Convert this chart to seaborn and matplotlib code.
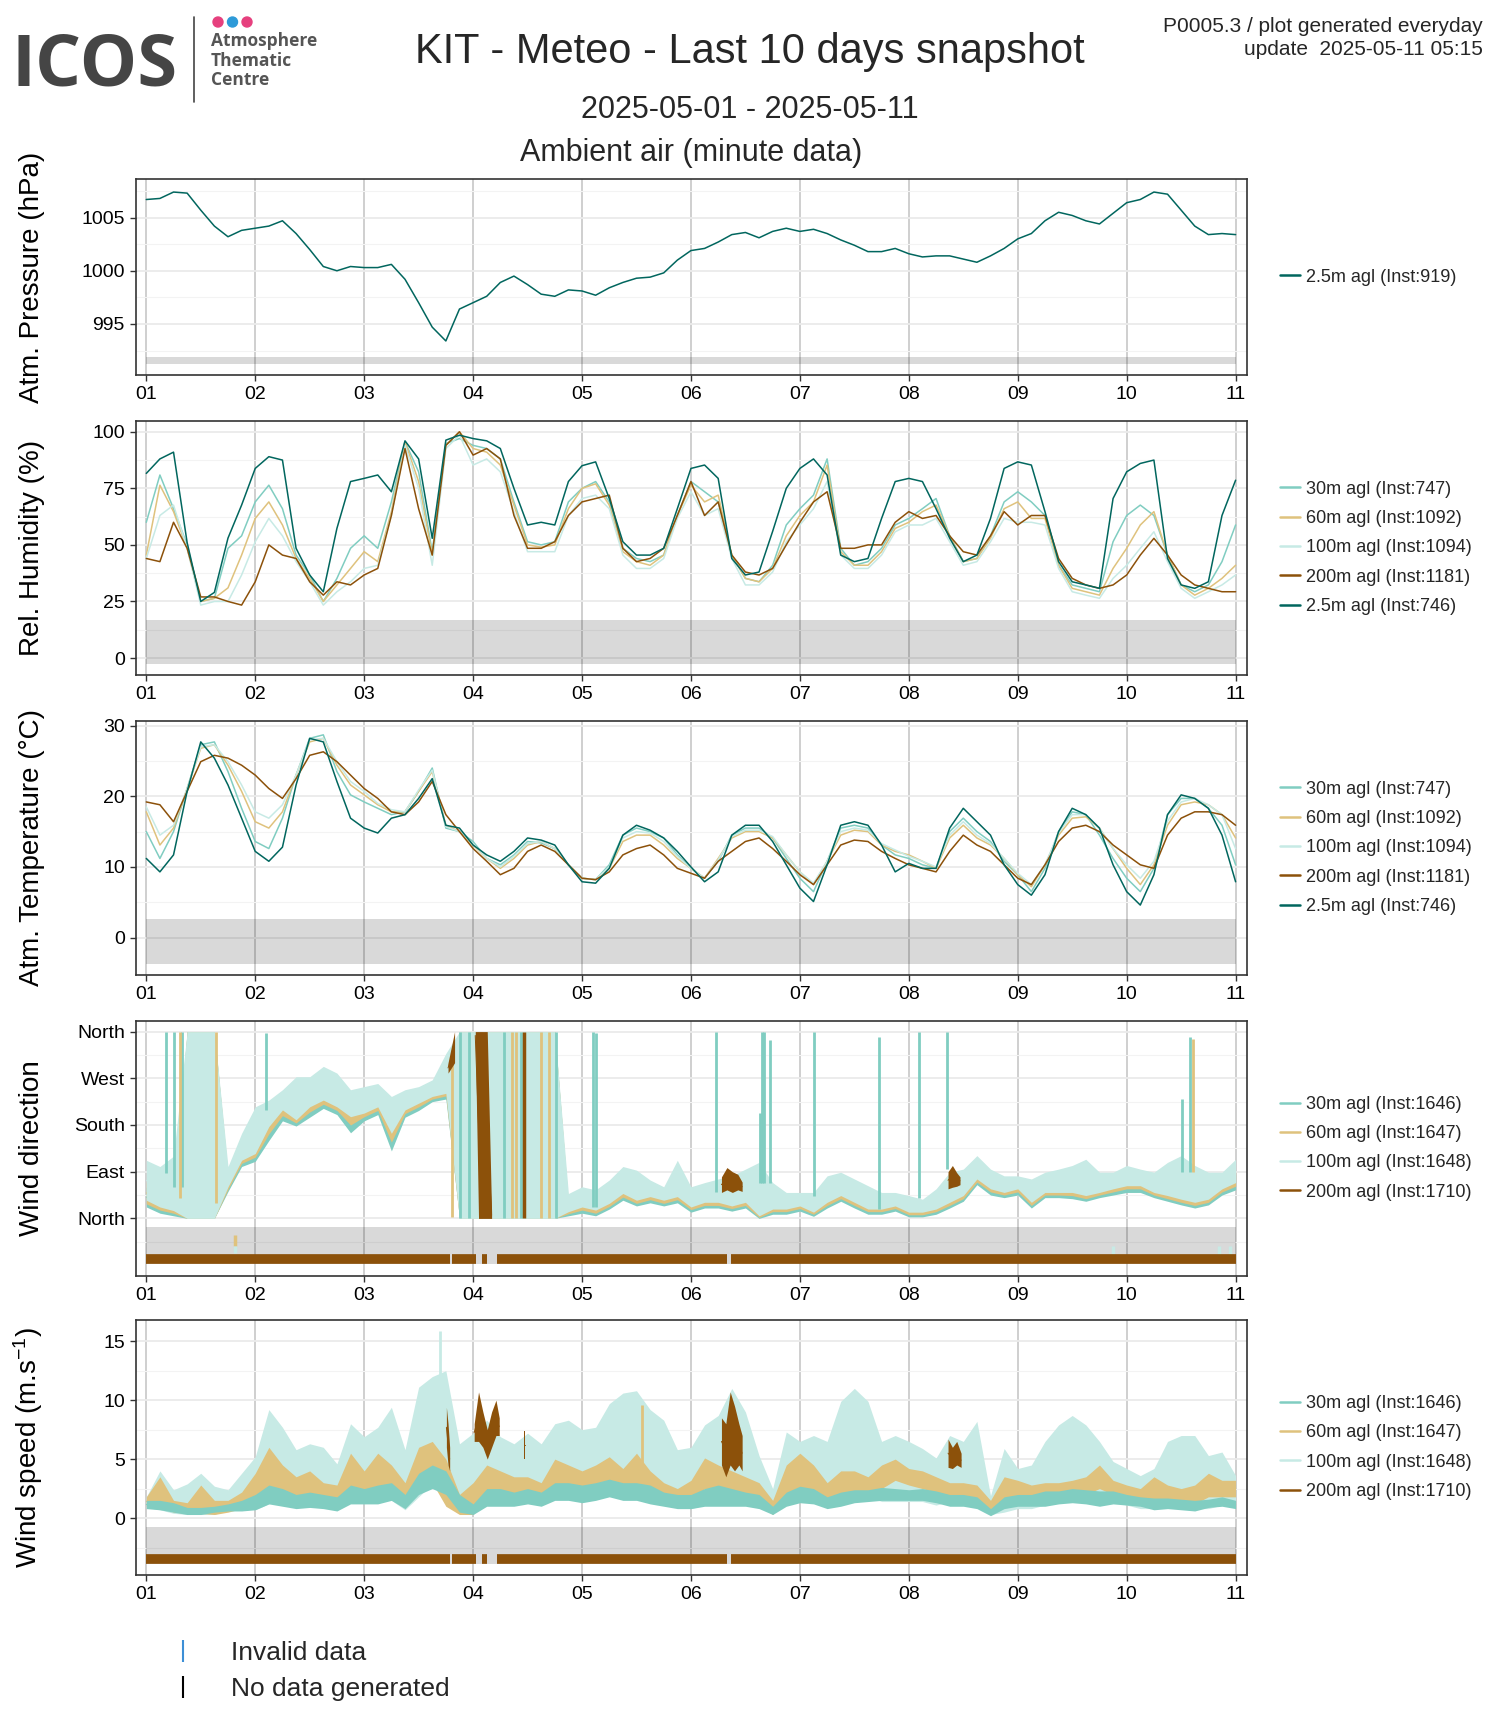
import numpy as np
import pandas as pd
import matplotlib
matplotlib.use("Agg")
import matplotlib.pyplot as plt
from matplotlib.lines import Line2D
from matplotlib.patches import Ellipse
from matplotlib.ticker import FixedLocator
import seaborn as sns

sns.set_theme(style="white")
plt.rcParams["font.family"] = ["Liberation Sans", "DejaVu Sans"]
plt.rcParams["mathtext.default"] = "regular"

nan = np.nan
# day of May 2025, one reading every 3 hours
t = np.linspace(1, 11, 81)

# --- atmospheric pressure, 2.5m
p_25 = [1006.7, 1006.8, 1007.4, 1007.3, 1005.7, 1004.2, 1003.2, 1003.8,
        1004.0, 1004.2, 1004.7, 1003.5, 1002.0, 1000.4, 1000.0, 1000.4,
        1000.3, 1000.3, 1000.6, 999.2, 997.0, 994.7, 993.4, 996.4,
        997.0, 997.6, 998.9, 999.5, 998.7, 997.8, 997.6, 998.2,
        998.1, 997.7, 998.4, 998.9, 999.3, 999.4, 999.8, 1001.0,
        1001.9, 1002.1, 1002.7, 1003.4, 1003.6, 1003.1, 1003.7, 1004.0,
        1003.7, 1003.9, 1003.5, 1002.9, 1002.4, 1001.8, 1001.8, 1002.1,
        1001.6, 1001.3, 1001.4, 1001.4, 1001.1, 1000.8, 1001.4, 1002.1,
        1003.0, 1003.5, 1004.7, 1005.5, 1005.2, 1004.7, 1004.4, 1005.4,
        1006.4, 1006.7, 1007.4, 1007.2, 1005.7, 1004.2, 1003.4, 1003.5, 1003.4]

# --- relative humidity (%)
rh_30 = [60, 80.9, 66, 50, 25, 26.4, 48.5, 54,
         69, 76.4, 66, 45.5, 36.7, 25, 35.2, 48.5,
         54, 48.5, 69, 95.6, 82.3, 47, 94.8, 97,
         94, 92.6, 88, 69, 51.4, 50, 51.4, 69,
         75, 78, 69, 48.5, 44, 42.6, 45.5, 63,
         78, 73.5, 69, 45.5, 35.2, 33.7, 41, 58.8,
         66, 72, 88, 48.5, 41, 42.6, 48.5, 58.8,
         61.7, 66, 70.5, 54, 42.6, 44, 54, 69,
         73.5, 69, 63, 41, 32.3, 30.8, 29.3, 51.4,
         63, 67.6, 63, 45.5, 32.3, 29.3, 32.3, 42.6, 58.8]
rh_60 = [45.5, 76.4, 64.7, 48.5, 25, 26.4, 31, 45.5,
         61.7, 69, 58.8, 44, 35.2, 25, 32.3, 39.6,
         47, 42.6, 64.7, 95.6, 78, 45.5, 94, 100,
         92.6, 91, 85.3, 67.6, 50, 49, 50, 66,
         75, 77, 67.6, 47, 42.6, 41, 45.5, 63,
         76.4, 69, 72, 45.5, 35.2, 33.7, 39.6, 54,
         63, 69, 85.3, 47, 41, 41, 47, 57.3,
         60, 64.7, 67.6, 54, 42.6, 44, 52.9, 66,
         69, 61.7, 61.7, 41, 30.8, 29.3, 27.8, 39.6,
         48.5, 58.8, 64.7, 45.5, 32.3, 27.8, 30.8, 35.2, 41]
rh_100 = [44, 63, 67.6, 48.5, 23.4, 25, 25, 36.7,
          51.4, 61.7, 54, 42.6, 33.7, 23.4, 29.3, 33.7,
          39.6, 41, 63, 94, 75, 41, 92.6, 98.5,
          85.3, 88, 82.3, 64.7, 47, 47, 47, 63,
          70.5, 72, 66, 45.5, 39.6, 39.6, 44, 61.7,
          73.5, 63, 66, 44, 32.3, 32.3, 38, 51.4,
          58.8, 66, 78, 45.5, 39.6, 39.6, 45.5, 55.8,
          58.8, 58.8, 61.7, 51.4, 41, 42.6, 51.4, 61.7,
          60, 60, 58.8, 39.6, 29.3, 27.8, 26.4, 35.2,
          41, 48.5, 55.8, 42.6, 30.8, 26.4, 29.3, 32.3, 36.7]
rh_200 = [44, 42.6, 60, 48.5, 27, 27, 25, 23.4,
          33.7, 50, 45.5, 44, 33.7, 27.8, 33.7, 32.3,
          36.7, 39.6, 63, 92.6, 66, 45.5, 94, 100,
          89.7, 92.6, 88, 63, 48.5, 48.5, 51.4, 63,
          69, 70.5, 72, 48.5, 42.6, 44, 48.5, 63,
          78, 63, 69, 45.5, 38, 36.7, 39.6, 50,
          60, 69, 73.5, 48.5, 48.5, 50, 50, 60,
          64.7, 61.7, 63, 54, 47, 45.5, 54, 64.7,
          58.8, 63, 63, 44, 35.2, 32.3, 30.8, 32.3,
          36.7, 45.5, 52.9, 45.5, 36.7, 32.3, 30.8, 29.3, 29.3]
rh_25 = [81.6, 88, 91, 51, 25, 29, 53, 67.6,
         83.8, 89, 87.5, 48.5, 36.7, 29.3, 57.3, 78,
         79.4, 80.9, 73.5, 96, 88, 52.9, 96.3, 98.5,
         97, 96, 92.6, 75, 58.8, 60, 58.8, 78,
         85, 86.7, 70.5, 51.4, 45.5, 45.5, 48.5, 66,
         83.8, 85.3, 79.4, 44, 36.7, 38, 56, 75,
         83.8, 88, 80.9, 45.5, 42.6, 44, 61.7, 78,
         79.4, 78, 66, 53, 42.6, 45.5, 61.7, 83.8,
         86.7, 85.3, 64.7, 42.6, 33.7, 32.3, 30.8, 70.5,
         82.3, 86, 87.5, 44, 32.3, 30.8, 33.7, 63, 78.6]

# --- air temperature (deg C)
t_30 = [15, 11.2, 15, 21.1, 27.3, 27.7, 23.5, 18.3,
        13.6, 12.6, 16.9, 23, 28.2, 28.7, 23.5, 20.2,
        19.2, 18.3, 17.4, 17.8, 20.7, 24, 15.5, 15,
        13.6, 11.2, 10.3, 11.7, 13.6, 13.4, 12.6, 10.3,
        8.4, 8.2, 10.3, 14.5, 15.5, 15, 14.1, 11.7,
        9.8, 8.4, 10.8, 14.5, 15.5, 15.5, 14.1, 11.2,
        8.4, 6.5, 10.8, 15.5, 15.9, 15.5, 13.1, 11.7,
        11.2, 10.3, 9.8, 15, 16.9, 15, 13.6, 10.8,
        8.9, 6.5, 9.8, 15, 17.8, 17.4, 14.5, 11.2,
        8.4, 6.5, 9.8, 17.4, 19.7, 19.7, 18.3, 15.9, 10.3]
t_60 = [17.8, 13.1, 15.5, 21.1, 26.8, 27.3, 24.4, 20.7,
        16.4, 15.5, 17.8, 23, 27.7, 28.2, 24.4, 21.6,
        20.2, 18.8, 17.8, 17.8, 20.7, 23.5, 15.9, 15,
        13.1, 11.2, 9.8, 11.2, 13.1, 13.6, 12.6, 10.3,
        8.4, 8.2, 9.8, 13.6, 14.5, 14.5, 13.1, 11.2,
        9.8, 8.4, 11.2, 14.1, 15, 15, 14.1, 11.7,
        9.3, 7.5, 10.8, 14.5, 15.2, 15, 13.1, 12.2,
        11.7, 10.8, 9.8, 14.1, 15.9, 14.1, 13.1, 11.2,
        8.9, 7.2, 10.3, 14.5, 16.9, 17.1, 15.5, 12.6,
        9.8, 7.5, 10.3, 15.9, 18.8, 19.2, 18.8, 17.4, 14.1]
t_100 = [18.5, 14.5, 15.9, 21.1, 27, 27.3, 24.9, 21.6,
         17.8, 16.9, 18.8, 23, 28, 28.2, 24.9, 22.1,
         20.7, 19, 18.1, 17.8, 20.9, 23.7, 15.7, 15,
         13.3, 11.2, 10, 11.5, 13.3, 13.6, 12.6, 10.3,
         8.4, 8.2, 10, 14.1, 15, 14.8, 13.6, 11.5,
         9.8, 8.4, 11, 14.3, 15.2, 15.2, 14.3, 11.7,
         9.3, 7.7, 10.8, 15, 15.5, 15.2, 13.3, 12.4,
         11.5, 10.8, 10, 14.5, 16.4, 14.5, 13.3, 11.2,
         9.1, 7.5, 10.3, 14.8, 17.4, 17.4, 15.5, 12.6,
         10.3, 8.4, 10.8, 16.5, 19.2, 19.7, 18.8, 17.4, 12.6]
t_200 = [19.2, 18.8, 16.4, 20.7, 24.9, 25.8, 25.4, 24.4,
         23, 21.1, 19.7, 22.5, 25.8, 26.3, 24.9, 23,
         21.1, 19.7, 17.8, 17.4, 19.2, 22.1, 17.4, 15,
         12.6, 10.8, 8.9, 9.8, 12.2, 13.1, 12.2, 10.3,
         8.4, 8.2, 9.3, 11.7, 12.6, 13.1, 11.7, 9.8,
         9.1, 8.4, 10.8, 12.2, 13.6, 14.1, 12.6, 10.8,
         8.9, 7.5, 10.3, 13.1, 13.8, 13.6, 12.2, 11.2,
         10.3, 9.8, 9.3, 12.2, 14.5, 13.1, 12.2, 10.3,
         8.4, 7.5, 10.3, 13.6, 15.5, 15.9, 15, 13.1,
         11.7, 10.3, 9.8, 14.5, 16.9, 17.8, 17.8, 17.4, 15.9]
t_25 = [11.2, 9.3, 11.7, 20.7, 27.7, 25.4, 21.6, 16.9,
        12.2, 10.8, 12.8, 21.6, 28.2, 27.7, 22.1, 16.9,
        15.5, 14.8, 16.9, 17.4, 19.7, 22.5, 15.9, 15.5,
        13.1, 11.7, 10.8, 12.2, 14.1, 13.8, 13.1, 10.3,
        7.9, 7.7, 9.8, 14.5, 15.9, 15.2, 14.1, 12.2,
        10.0, 7.9, 9.3, 14.5, 15.9, 15.9, 13.6, 10.3,
        7.0, 5.1, 10.3, 15.9, 16.4, 15.9, 13.1, 9.3,
        10.5, 9.8, 9.8, 15.5, 18.3, 16.4, 14.5, 10.3,
        7.5, 6.0, 8.9, 15, 18.3, 17.4, 15.5, 10.3,
        6.5, 4.6, 8.9, 17.4, 20.2, 19.7, 18.3, 14.5, 7.9]

# --- wind direction (deg), min / max of the minute values in each 3 h slot
wd30_lo = [22, 10, 5, 0, 0, 0, 52, 100,
           110, 150, 188, 178, 195, 212, 200, 165,
           188, 200, 130, 195, 208, 225, 230, 0,
           0, 0, 0, 0, 0, 0, 0, 5,
           10, 5, 18, 35, 24, 30, 24, 30,
           12, 20, 20, 14, 20, 0, 8, 8,
           14, 4, 20, 33, 20, 8, 8, 14,
           3, 3, 8, 20, 33, 65, 45, 40,
           45, 20, 40, 40, 38, 33, 40, 45,
           50, 50, 40, 33, 26, 20, 26, 45, 55]
wd30_hi = [60, 50, 45, 360, 360, 360, 80, 130,
           160, 200, 215, 210, 225, 240, 230, 215,
           215, 225, 190, 220, 230, 245, 260, 360,
           360, 360, 360, 360, 360, 360, 360, 25,
           30, 25, 40, 60, 45, 50, 40, 55,
           35, 40, 40, 35, 45, 40, 35, 25,
           30, 25, 40, 55, 40, 30, 25, 30,
           20, 20, 30, 45, 60, 85, 65, 60,
           65, 40, 60, 60, 65, 60, 60, 65,
           75, 70, 60, 60, 55, 50, 50, 65, 85]
wd60_lo = [28, 16, 10, 0, 0, 0, 56, 106,
           118, 163, 198, 184, 205, 220, 208, 180,
           196, 208, 147, 202, 215, 230, 236, 0,
           0, 0, 0, 0, 0, 0, 0, 9,
           16, 10, 23, 41, 29, 36, 29, 36,
           17, 25, 25, 19, 25, 2, 13, 13,
           19, 8, 25, 38, 25, 13, 13, 19,
           7, 7, 13, 25, 38, 70, 51, 45,
           51, 25, 45, 45, 44, 38, 45, 51,
           57, 57, 45, 38, 31, 25, 31, 51, 62]
wd60_hi = [70, 65, 60, 360, 360, 360, 85, 140,
           175, 210, 225, 225, 235, 250, 240, 225,
           225, 235, 205, 228, 238, 252, 280, 360,
           360, 360, 360, 360, 360, 360, 360, 30,
           40, 35, 50, 70, 55, 55, 45, 65,
           40, 48, 50, 45, 55, 50, 40, 32,
           35, 30, 50, 62, 48, 38, 32, 35,
           25, 25, 38, 55, 65, 92, 72, 65,
           70, 50, 66, 68, 72, 70, 66, 70,
           82, 78, 66, 68, 65, 60, 58, 70, 90]
wd100_lo = [35, 22, 15, 0, 0, 0, 61, 112,
            125, 177, 209, 190, 215, 228, 215, 196,
            203, 215, 164, 209, 222, 235, 241, 0,
            0, 0, 0, 0, 0, 0, 0, 13,
            22, 16, 29, 48, 35, 42, 35, 42,
            22, 31, 31, 24, 31, 5, 18, 18,
            24, 12, 31, 44, 31, 18, 18, 24,
            12, 12, 18, 31, 44, 76, 57, 50,
            57, 31, 50, 50, 50, 44, 50, 57,
            63, 63, 50, 44, 37, 31, 37, 57, 69]
wd100_hi = [112, 100, 120, 360, 360, 360, 100, 164,
            215, 228, 248, 273, 273, 293, 280, 248,
            254, 260, 235, 248, 254, 267, 318, 360,
            360, 360, 360, 360, 360, 360, 360, 48,
            61, 55, 74, 100, 93, 74, 61, 112,
            61, 69, 76, 82, 95, 108, 69, 50,
            50, 50, 82, 89, 76, 63, 50, 50,
            44, 37, 57, 89, 95, 121, 95, 82,
            82, 76, 89, 95, 102, 114, 89, 89,
            102, 95, 89, 108, 121, 102, 89, 89, 114]
# 200m only has a few short stretches of valid data
wd200_t = [3.77, 3.80, 3.83, nan, 4.02, 4.05, 4.13, 4.17, nan,
           6.28, 6.33, 6.38, 6.43, 6.47, nan, 8.36, 8.40, 8.44, 8.47]
wd200_lo = [280, 290, 300, nan, 345, 0, 0, 0, nan,
            50, 55, 50, 55, 52, nan, 57, 60, 62, 65]
wd200_hi = [300, 330, 360, nan, 360, 360, 360, 12, nan,
            80, 98, 90, 85, 70, nan, 90, 102, 88, 80]
# single-minute jumps through north
wd30_spike_t = [1.18, 1.25, 1.33, 2.10, 3.88, 3.96, 4.28, 4.44, 4.76, 5.10, 5.13,
                6.23, 6.63, 6.65, 6.67, 6.73, 7.13, 7.73, 8.09, 8.35, 10.51, 10.58]
wd30_spike_lo = [87, 61, 60, 209, 0, 0, 0, 0, 0, 22, 22,
                 50, 69, 69, 69, 69, 44, 18, 40, 95, 90, 90]
wd30_spike_hi = [359, 359, 359, 357, 360, 360, 360, 360, 360, 360, 358,
                 359, 204, 359, 360, 343, 360, 349, 360, 360, 230, 349]
wd60_spike_t = [1.31, 1.64, 3.81, 4.07, 4.36, 4.39, 4.62, 4.70, 10.61]
wd60_spike_lo = [40, 30, 3, 0, 0, 0, 0, 0, 90]
wd60_spike_hi = [360, 360, 325, 360, 360, 360, 360, 360, 345]
wd200_spike_t = [4.47]
wd200_spike_lo = [0]
wd200_spike_hi = [360]
# invalid-data flags in the grey strip
flag_t = [1.81, 1.81, 9.87, 10.85, 10.95]
flag_lo = [-53, -67, -71, -71, -71]
flag_hi = [-32, -53, -53, -53, -53]
flag_level = ["60m", "100m", "100m", "100m", "100m"]

# --- wind speed (m/s), min / max in each 3 h slot
ws30_lo = [0.8, 0.7, 0.5, 0.3, 0.3, 0.5, 0.6, 0.6,
           0.7, 1.2, 1.0, 0.8, 0.9, 0.8, 0.6, 1.2,
           1.2, 1.2, 1.5, 0.8, 2.0, 2.5, 2.0, 0.5,
           0.3, 1.0, 1.0, 1.0, 1.2, 1.0, 1.5, 1.5,
           1.3, 1.5, 1.8, 1.5, 1.5, 1.2, 1.0, 0.8,
           0.8, 1.0, 1.0, 1.0, 1.0, 0.8, 0.3, 1.0,
           1.3, 1.2, 0.8, 1.0, 1.3, 1.4, 1.5, 1.5,
           1.5, 1.5, 1.3, 1.0, 1.0, 0.8, 0.2, 0.8,
           1.0, 1.0, 1.0, 1.2, 1.3, 1.2, 1.0, 1.2,
           1.1, 1.0, 0.7, 0.8, 0.7, 0.6, 0.9, 1.0, 0.8]
ws30_hi = [1.5, 1.5, 1.3, 0.9, 0.9, 1.0, 1.2, 1.5,
           2.0, 2.8, 2.5, 2.0, 2.2, 2.0, 1.8, 2.8,
           2.5, 2.8, 3.0, 2.0, 3.8, 4.5, 4.0, 2.0,
           1.2, 2.5, 2.5, 2.2, 2.5, 2.2, 3.0, 3.0,
           2.8, 3.0, 3.3, 3.0, 3.0, 2.8, 2.2, 2.0,
           2.0, 2.5, 2.8, 2.5, 2.2, 2.0, 1.0, 2.2,
           2.7, 2.5, 1.8, 2.2, 2.4, 2.4, 2.6, 2.5,
           2.4, 2.5, 2.3, 2.0, 2.0, 1.8, 0.8, 1.8,
           2.0, 2.0, 2.3, 2.3, 2.5, 2.4, 2.3, 2.3,
           2.0, 1.8, 1.7, 1.7, 1.6, 1.5, 1.6, 1.8, 1.5]
ws60_lo = [1.0, 1.0, 0.5, 0.4, 0.4, 0.3, 0.5, 0.8,
           1.0, 1.5, 1.8, 1.5, 1.8, 1.5, 1.2, 2.5,
           2.0, 2.0, 2.0, 1.0, 3.0, 3.0, 1.0, 0.3,
           0.3, 1.5, 1.5, 1.8, 1.8, 1.5, 2.5, 2.5,
           2.2, 2.5, 2.8, 2.2, 2.5, 2.0, 1.5, 1.0,
           1.4, 2.5, 1.8, 1.8, 1.5, 1.2, 0.3, 2.0,
           2.5, 2.0, 1.0, 1.8, 2.0, 2.0, 2.5, 3.2,
           2.8, 2.5, 2.2, 1.5, 1.5, 1.2, 0.5, 1.5,
           1.8, 1.5, 1.5, 2.0, 2.0, 2.0, 2.5, 2.0,
           1.8, 1.5, 1.2, 1.2, 1.0, 1.2, 1.8, 1.8, 1.8]
ws60_hi = [1.8, 3.5, 1.5, 1.3, 2.8, 1.5, 1.5, 2.2,
           3.8, 6.0, 4.5, 3.5, 4.0, 3.0, 2.8, 5.5,
           4.0, 5.5, 4.5, 3.0, 6.0, 6.5, 5.0, 2.0,
           3.0, 4.5, 4.0, 3.5, 3.5, 3.0, 5.0, 4.5,
           4.0, 4.5, 5.2, 4.2, 5.5, 4.0, 3.0, 2.5,
           3.2, 5.1, 4.5, 4.0, 3.5, 3.0, 1.5, 4.5,
           5.5, 4.5, 3.0, 4.0, 4.0, 3.5, 4.5, 5.0,
           4.2, 4.0, 3.5, 3.0, 3.0, 2.8, 1.5, 3.5,
           3.2, 2.8, 3.0, 3.0, 3.2, 3.5, 4.5, 3.2,
           2.8, 2.5, 3.5, 2.8, 2.5, 2.8, 3.8, 3.2, 3.2]
ws100_lo = [0.9, 0.7, 0.4, 0.3, 0.3, 0.3, 0.7, 1.0,
            0.7, 1.2, 1.8, 1.2, 1.2, 1.0, 1.0, 1.5,
            1.2, 1.8, 1.5, 0.7, 1.8, 2.9, 2.7, 0.7,
            0.7, 1.8, 1.8, 1.5, 1.8, 1.5, 2.4, 1.8,
            1.8, 1.8, 2.1, 1.8, 1.8, 1.8, 1.2, 1.0,
            0.8, 1.1, 1.4, 1.9, 1.4, 1.1, 0.3, 1.4,
            1.7, 1.4, 1.1, 1.9, 2.2, 1.9, 1.4, 1.4,
            1.4, 1.4, 1.1, 1.4, 1.1, 1.1, 0.3, 0.5,
            0.8, 0.8, 1.1, 1.4, 1.4, 1.4, 1.1, 1.4,
            1.1, 0.8, 0.8, 1.1, 1.1, 0.8, 0.8, 1.1, 1.4]
ws100_hi = [1.8, 4.0, 2.4, 2.9, 3.8, 2.7, 2.4, 3.8,
            5.2, 9.2, 7.7, 5.8, 6.3, 6.0, 4.6, 8.0,
            6.9, 7.7, 9.4, 5.8, 11.1, 12.0, 12.5, 6.3,
            7.2, 8.3, 6.9, 6.3, 7.2, 6.3, 8.0, 8.3,
            7.5, 7.7, 9.7, 10.6, 10.8, 9.2, 8.3, 5.8,
            6.0, 7.9, 8.7, 11.0, 9.0, 5.3, 2.5, 7.3,
            6.5, 7.0, 6.5, 9.9, 11.0, 9.9, 6.5, 7.0,
            6.5, 5.9, 5.1, 7.0, 6.5, 8.2, 1.9, 5.9,
            4.2, 4.5, 6.5, 7.9, 8.7, 7.9, 6.5, 4.8,
            4.2, 3.6, 4.2, 6.5, 7.0, 7.0, 5.3, 5.6, 3.6]
ws200_t = [3.755, 3.77, 3.785, nan, 4.01, 4.05, 4.09, 4.13, 4.17, 4.21, 4.24, nan,
           4.465, 4.475, nan, 6.28, 6.32, 6.36, 6.40, 6.44, 6.47, nan, 8.36, 8.40, 8.44, 8.48]
ws200_lo = [6.0, 4.5, 4.0, nan, 6.5, 6.5, 6.0, 5.0, 6.0, 7.0, 7.0, nan,
            5.0, 5.0, nan, 4.5, 3.5, 4.5, 4.0, 4.5, 4.0, nan, 4.3, 4.2, 4.5, 4.3]
ws200_hi = [9.4, 8.0, 6.0, nan, 8.0, 10.7, 9.0, 7.5, 9.0, 10.0, 8.5, nan,
            7.4, 7.4, nan, 8.5, 8.0, 10.7, 9.5, 8.0, 7.0, nan, 6.7, 6.0, 6.5, 5.5]
ws100_spike_t, ws100_spike_lo, ws100_spike_hi = [3.70], [3.0], [15.9]
ws60_spike_t, ws60_spike_lo, ws60_spike_hi = [5.55], [3.0], [9.6]

# 200m availability bar (no data generated in the gaps)
strip_start = [1.0, 3.81, 4.08, 4.22, 6.37]
strip_end = [3.79, 4.03, 4.13, 6.33, 11.0]

lab_p = ["2.5m agl (Inst:919)"]
lab_th = ["30m agl (Inst:747)", "60m agl (Inst:1092)", "100m agl (Inst:1094)",
          "200m agl (Inst:1181)", "2.5m agl (Inst:746)"]
lab_w = ["30m agl (Inst:1646)", "60m agl (Inst:1647)", "100m agl (Inst:1648)",
         "200m agl (Inst:1710)"]

pal = {"30m": "#80cdc1", "60m": "#dfc27d", "100m": "#c7eae5", "200m": "#8c510a", "2.5m": "#01665e"}


def line(ax, y, color, label):
    sns.lineplot(x=t, y=y, color=color, lw=1.1, label=label, ax=ax)


def band(ax, x, lo, hi, color, z, label=None):
    x = np.asarray(x, float)
    df = pd.DataFrame({"t": np.r_[x, x], "v": np.r_[lo, hi]})
    sns.lineplot(data=df, x="t", y="v", color=color, lw=0.7, label=label, zorder=z,
                 errorbar=("pi", 100), err_kws={"alpha": 1, "linewidth": 0, "zorder": z}, ax=ax)


def band_pieces(ax, x, lo, hi, color, z, label):
    x, lo, hi = (np.asarray(a, float) for a in (x, lo, hi))
    cuts = np.where(np.isnan(x))[0]
    first = True
    for xs, ls, hs in zip(np.split(x, cuts), np.split(lo, cuts), np.split(hi, cuts)):
        ok = ~np.isnan(xs)
        band(ax, xs[ok], ls[ok], hs[ok], color, z, label if first else None)
        first = False


def frame(ax, ylim, major, minor, ylabel, shade, ticklabels=None):
    ax.set_xlim(0.906, 11.1)
    ax.set_ylim(*ylim)
    ax.set_xticks(range(1, 12))
    ax.set_xticklabels([f"{d:02d}" for d in range(1, 12)])
    ax.set_yticks(major)
    if ticklabels:
        ax.set_yticklabels(ticklabels)
    ax.yaxis.set_minor_locator(FixedLocator(minor))
    ax.grid(axis="x", which="major", color="#cccccc", lw=1.3)
    ax.grid(axis="y", which="major", color="#ebebeb", lw=1.3)
    ax.grid(axis="y", which="minor", color="#f3f3f3", lw=0.8)
    ax.set_axisbelow(True)
    ax.tick_params(which="major", length=4, width=1, color="#333333", labelsize=14,
                   labelcolor="black", pad=4, left=True, bottom=True)
    ax.tick_params(which="minor", length=0)
    for s in ax.spines.values():
        s.set_color("#333333")
        s.set_linewidth(1.2)
    # grey strip where the data flags live
    ax.fill_between([1, 11], shade[0], shade[1], color="black", alpha=0.15, lw=0, zorder=1.5)
    ax.set_xlabel("")
    ax.set_ylabel(ylabel, fontsize=20, color="black")
    ax.yaxis.set_label_coords(-0.082, 0.5)


def legend(ax, labels):
    handles, names = ax.get_legend_handles_labels()
    lookup = dict(zip(names, handles))
    leg = ax.legend([lookup[n] for n in labels], labels, loc="center left",
                    bbox_to_anchor=(1 + 34 / 1110.5, 0.5), borderaxespad=0, borderpad=0,
                    frameon=False, fontsize=13, handlelength=1.1, handletextpad=0.3,
                    labelspacing=0.68)
    for h in leg.legend_handles:
        h.set_linewidth(1.8)


fig = plt.figure(figsize=(15, 17.25), dpi=100)
L, W = 0.0907, 0.7403
ax1 = fig.add_axes([L, 0.78261, W, 0.11345])
ax2 = fig.add_axes([L, 0.60870, W, 0.14742])
ax3 = fig.add_axes([L, 0.43478, W, 0.14742])
ax4 = fig.add_axes([L, 0.26029, W, 0.14800])
ax5 = fig.add_axes([L, 0.08696, W, 0.14783])

# pressure
line(ax1, p_25, pal["2.5m"], lab_p[0])
frame(ax1, (990.2, 1008.6), [995, 1000, 1005], [992.5, 997.5, 1002.5, 1007.5],
      "Atm. Pressure (hPa)", (991.2, 991.9))
legend(ax1, lab_p)

# humidity
for y, k, lab in zip([rh_30, rh_60, rh_100, rh_200, rh_25], pal, lab_th):
    line(ax2, y, pal[k], lab)
frame(ax2, (-7.5, 104.9), [0, 25, 50, 75, 100], [12.5, 37.5, 62.5, 87.5],
      "Rel. Humidity (%)", (-2.5, 17))
legend(ax2, lab_th)

# temperature
for y, k, lab in zip([t_30, t_60, t_100, t_200, t_25], pal, lab_th):
    line(ax3, y, pal[k], lab)
frame(ax3, (-5.3, 30.7), [0, 10, 20, 30], [5, 15, 25],
      "Atm. Temperature (°C)", (-3.7, 2.6))
legend(ax3, lab_th)

# wind direction
band(ax4, t, wd30_lo, wd30_hi, pal["30m"], 2.0, lab_w[0])
band(ax4, t, wd60_lo, wd60_hi, pal["60m"], 2.1, lab_w[1])
band(ax4, t, wd100_lo, wd100_hi, pal["100m"], 2.2, lab_w[2])
ax4.vlines(wd30_spike_t, wd30_spike_lo, wd30_spike_hi, color=pal["30m"], lw=2, zorder=2.3)
ax4.vlines(wd60_spike_t, wd60_spike_lo, wd60_spike_hi, color=pal["60m"], lw=2, zorder=2.3)
band_pieces(ax4, wd200_t, wd200_lo, wd200_hi, pal["200m"], 2.5, lab_w[3])
ax4.vlines(wd200_spike_t, wd200_spike_lo, wd200_spike_hi, color=pal["200m"], lw=2.5, zorder=2.5)
ax4.vlines(flag_t, flag_lo, flag_hi, colors=[pal[k] for k in flag_level], lw=2.5, zorder=3)
ax4.hlines([-78.5] * len(strip_start), strip_start, strip_end, color=pal["200m"], lw=7, zorder=3)
frame(ax4, (-111, 381), [0, 90, 180, 270, 360], [-45, 45, 135, 225, 315],
      "Wind direction", (-87, -17.4), ["North", "East", "South", "West", "North"])
legend(ax4, lab_w)

# wind speed
band(ax5, t, ws100_lo, ws100_hi, pal["100m"], 2.0, lab_w[2])
ax5.vlines(ws100_spike_t, ws100_spike_lo, ws100_spike_hi, color=pal["100m"], lw=2, zorder=2.05)
band(ax5, t, ws60_lo, ws60_hi, pal["60m"], 2.1, lab_w[1])
ax5.vlines(ws60_spike_t, ws60_spike_lo, ws60_spike_hi, color=pal["60m"], lw=2, zorder=2.1)
band(ax5, t, ws30_lo, ws30_hi, pal["30m"], 2.2, lab_w[0])
band_pieces(ax5, ws200_t, ws200_lo, ws200_hi, pal["200m"], 2.5, lab_w[3])
ax5.hlines([-3.5] * len(strip_start), strip_start, strip_end, color=pal["200m"], lw=7, zorder=3)
frame(ax5, (-4.83, 16.8), [0, 5, 10, 15], [-2.5, 2.5, 7.5, 12.5],
      "Wind speed (m.s$^{-1}$)", (-3.9, -0.76))
legend(ax5, lab_w)

# header
fig.text(0.5, 1 - 63.3 / 1725, "KIT - Meteo - Last 10 days snapshot", ha="center",
         va="baseline", fontsize=30)
fig.text(0.5, 1 - 118.3 / 1725, "2025-05-01 - 2025-05-11", ha="center", va="baseline", fontsize=22)
fig.text(L + W / 2, 1 - 160.5 / 1725, "Ambient air (minute data)", ha="center",
         va="baseline", fontsize=22)
fig.text(0.9887, 1 - 31.7 / 1725, "P0005.3 / plot generated everyday", ha="right",
         va="baseline", fontsize=15)
fig.text(0.9887, 1 - 55 / 1725, "update  2025-05-11 05:15", ha="right", va="baseline", fontsize=15)

# ICOS logo
logo_font = ["Open Sans", "DejaVu Sans"]
fig.text(11 / 1500, 1 - 85 / 1725, "ICOS", fontsize=52, fontweight="bold", color="#454545",
         family=logo_font, va="baseline")
fig.add_artist(Line2D([194 / 1500] * 2, [1 - 17 / 1725, 1 - 102 / 1725], color="#444444", lw=1.2))
for x, c in zip([218, 232.5, 247], ["#e6407e", "#2d9ad8", "#e6407e"]):
    fig.add_artist(Ellipse((x / 1500, 1 - 22 / 1725), 10 / 1500, 10 / 1725, color=c,
                           transform=fig.transFigure))
for yb, s in zip([46.5, 66, 85], ["Atmosphere", "Thematic", "Centre"]):
    fig.text(211 / 1500, 1 - yb / 1725, s, fontsize=12.5, fontweight="bold",
             color="#555555", family=logo_font, va="baseline")

# flag legend
flag_handles = [Line2D([], [], ls="none", marker="|", ms=16, mew=1.5, color="#3d8fd6"),
                Line2D([], [], ls="none", marker="|", ms=16, mew=1.5, color="black")]
fig.legend(flag_handles, ["Invalid data", "No data generated"], loc="upper left",
           bbox_to_anchor=(157 / 1500, 1 - 1641 / 1725), frameon=False, fontsize=19,
           handlelength=2, handletextpad=0.8, labelspacing=0.45, borderpad=0, borderaxespad=0)

fig.savefig("out.png", dpi=100)
